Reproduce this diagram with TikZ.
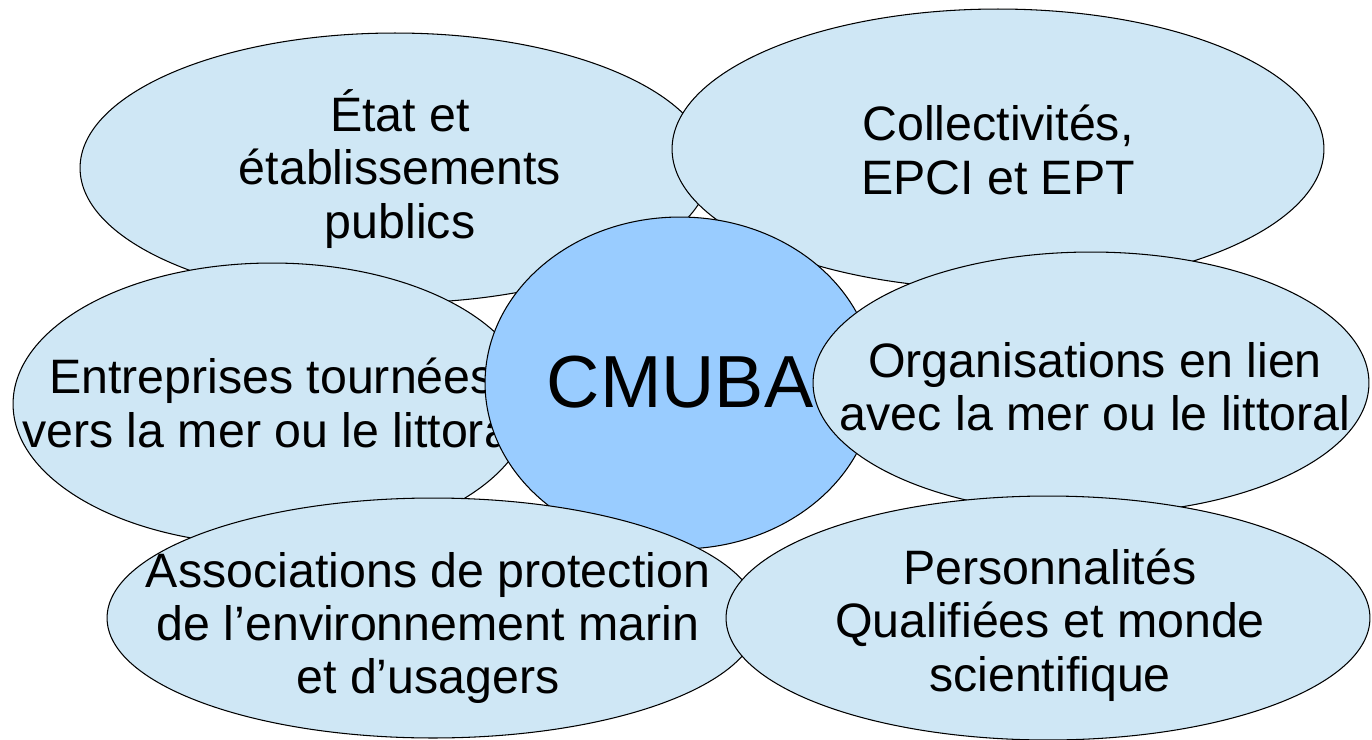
\documentclass[tikz,border=0pt]{standalone}
\usepackage{fontspec}
\setmainfont{Liberation Sans}
\usetikzlibrary{shapes.geometric}
\definecolor{paleblue}{RGB}{207,231,245}
\definecolor{hubblue}{RGB}{153,204,255}

\begin{document}
\begin{tikzpicture}[
  blob/.style={ellipse,draw,fill=paleblue,inner sep=0pt,line width=0.6pt},
  hub/.style={blob,fill=hubblue},
  lbl/.style={align=center,inner sep=0pt,font=\fontsize{27.5}{30.4}\selectfont},
  x=0.02cm, y=-0.02cm]
  \useasboundingbox (0,0) rectangle (1372,740);
  % back row
  \node[blob,minimum width=12.6cm,minimum height=5.4cm] (etat) at (395,168) {};
  \node[lbl] (etatT) at (400,169) {État et\\établissements\\publics};
  \node[blob,minimum width=13.04cm,minimum height=5.6cm] (coll) at (998,149) {};
  \node[lbl] (collT) at (998,150) {Collectivités,\\EPCI et EPT};
  \node[blob,minimum width=10.36cm,minimum height=5.64cm] (entr) at (272,404) {};
  \node[lbl] (entrT) at (272,403) {Entreprises tournées\\vers la mer ou le littoral};
  % centre
  \node[hub,minimum width=7.8cm,minimum height=6.64cm] (cmuba) at (680,383) {};
  \node[font=\fontsize{42}{48}\selectfont,inner sep=0pt] (cmubaT) at (680,382) {CMUBA};
  % front row
  \node[blob,minimum width=11.12cm,minimum height=5.24cm] (orga) at (1091,383) {};
  \node[lbl] (orgaT) at (1095,387) {Organisations en lien\\avec la mer ou le littoral};
  \node[blob,minimum width=13.04cm,minimum height=4.8cm] (asso) at (433,618) {};
  \node[lbl] (assoT) at (428,628) {Associations de protection\\de l’environnement marin\\et d’usagers};
  \node[blob,minimum width=12.88cm,minimum height=4.88cm] (pers) at (1048,618) {};
  \node[lbl] (persT) at (1050,625) {Personnalités\\Qualifiées et monde\\scientifique};
\end{tikzpicture}
\end{document}
